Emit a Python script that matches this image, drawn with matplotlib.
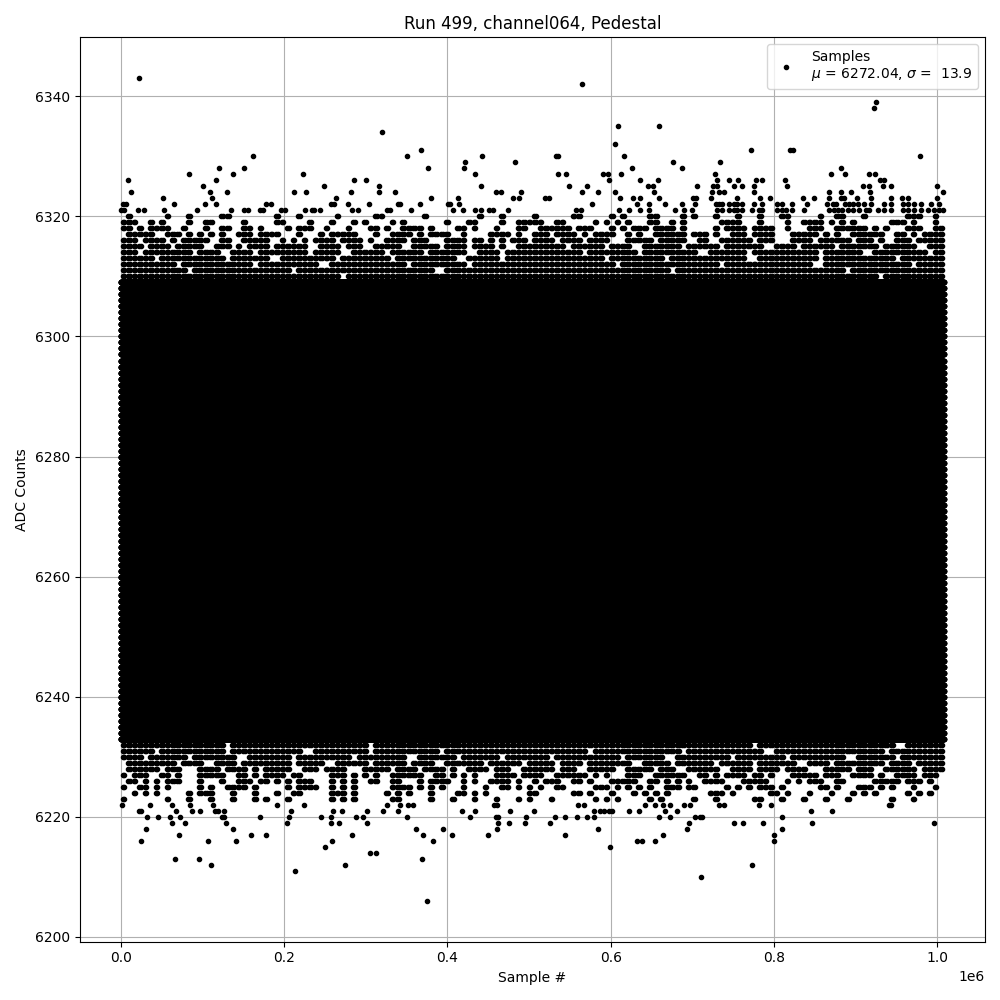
import matplotlib
matplotlib.use("Agg")
import matplotlib.pyplot as plt
import numpy as np

# Run 499, channel064 pedestal samples
n_samples = 1008000          # last sample index
mu, sigma = 6272.04, 13.9

# rows that are completely filled over the whole run
core_lo, core_hi = 6233, 6309

# partly filled rows: one character per bin of three dot slots
#   0 empty, 3 full, 1/l/r one dot (middle/left/right),
#   2/p/q two dots (left+middle / middle+right / left+right)
band_levels = [6320, 6319, 6318, 6317, 6316, 6315, 6314, 6313, 6312, 6311, 6310,
               6232, 6231, 6230, 6229, 6228, 6227, 6226, 6225, 6224, 6223]
band_masks = [
    "10r0l02001r00l0p00100r0l0" + "l0p0r1020q0l1r0201p0l0r21",
    "3r10l2010p01r0q01l0r020l3" + "2p0r1q021l0p2r01p2q10r2l1",
    "2q3r0l2p10q21r02l3q0p1r02" + "p3q2r13p2l0q3p21r2p3q1r2p",
    "p3r2q1l3p2r0q3l1p2q3r0p2l" + "3p2q3r1p3q2l3p2r3q1p3l2q3",
    "3p2q3l2p3r1q3p2l3q2r3p1q2" + "3q3p2r3q3l2p3q2r3p3q2l3p3",
    "3q3p3r2q3p3l3q2p3r3q3p2l3" + "33p3q3r33p3q33r3p3q33p3l3",
    "3p33q3r3p33q3l33p3q33r3p3" + "333p33q333r33p333q33r333p",
    "33p333q33r333p33q333l33p3" + "3333q333p3333r333q3333p33",
    "333q3333p333r3333q333p333" + "33333p33333q33333r33333p3",
    "3333p33333q33333333r33333" + "33333333q3333333333p33333",
    "3333333333333q33333333333" + "333333333333333333333p333",
    "333333q33333333p333333333" + "3333333333333q33333333r33",
    "33p333q3333r333p333q33333" + "333q33333p3333r333333q333",
    "3q33p33r33q333p33l33q33p3" + "3p333q33r333p33q333r33p33",
    "p33q3r3p33q3l33p3q3r33p3q" + "3q3p33r3q33p3q33r3p33q3p3",
    "p3q2r3p2q3l3p2r3q3p2l3q2p" + "3q2p3r3q2p3l3q3p2r3q2p3q3",
    "q2p1r3l2q3p0r2q1p3l2q1r3p" + "2p3q1r2p3l2q3p1r3q2p2l3q2",
    "p1q2r0l3p1q2r1l2p0q3r1p2l" + "q2p1r3l2q1p2r3l1q2p0r3q2l",
    "l2q0r1p2l0q3r1l0p2q1r0l2q" + "1p0r2q1l3p0r1q2l0p1r2q0l1",
    "r1l0q2r0l1p0r2l0q1r0p1l0r" + "l0p1r0q1l0r2l0p1r0l1q0r1l",
    "l0r0l1r0q0l0r1l0p0r0l1r0q" + "0l0r1l0q0r0l0p0l1r0l0r0l0",
]
slot_use = {"0": [], "1": [1], "l": [0], "r": [2],
            "2": [0, 1], "p": [1, 2], "q": [0, 2], "3": [0, 1, 2]}

# single outlying samples: sample index (thousands) per ADC value
outliers = {
    6343: [22.9],
    6342: [564.9],
    6339: [925.2],
    6338: [922.7],
    6335: [608.6, 658.9],
    6334: [320.2],
    6332: [604.9],
    6331: [368.1, 771.8, 819.6, 823.8],
    6330: [162.0, 350.9, 443.0, 532.5, 535.0, 616.0, 979.1],
    6329: [422.1, 483.4, 676.1, 733.7],
    6328: [120.2, 150.9, 376.7, 420.9, 625.8, 687.1, 881.5],
    6327: [83.4, 137.4, 223.3, 434.4, 535.0, 544.8, 590.2, 596.3, 612.3, 727.6,
           869.9, 887.1, 915.8, 923.2],
    6326: [8.6, 117.1, 285.9, 300.6, 597.5, 635.6, 657.7, 730.1, 744.8, 755.8,
           777.9, 785.3, 813.5, 929.3, 935.0],
    6325: [100.6, 249.1, 316.6, 441.7, 548.5, 571.0, 645.4, 651.5, 705.5, 724.8,
           730.1, 750.9, 760.7, 775.5, 816.0, 909.2, 915.8, 933.7, 943.6, 1000.0],
    6324: [12.3, 108.8, 130.1, 212.3, 227.5, 282.2, 316.6, 336.2, 460.1, 466.3,
           490.8, 564.4, 584.0, 604.9, 652.8, 723.6, 732.5, 738.7, 775.5, 867.5,
           882.2, 894.5, 917.8, 1007.0],
    6323: [52.4, 111.7, 263.8, 380.4, 413.5, 481.0, 488.3, 520.2, 523.9, 611.0,
           627.0, 635.6, 658.9, 700.6, 704.3, 722.3, 754.6, 782.8, 795.1, 835.6,
           849.1, 867.5, 882.2, 885.9, 901.8, 919.0, 943.6, 957.1, 964.4, 1000.0],
    6322: [2.5, 6.6, 64.7, 103.1, 116.6, 178.4, 184.5, 257.7, 261.0, 278.5,
           304.3, 339.9, 342.0, 366.9, 401.2, 403.7, 414.7, 576.7, 631.9, 646.6,
           666.3, 687.1, 703.1, 728.5, 732.5, 735.8, 744.8, 750.9, 755.1, 761.2,
           775.5, 785.8, 804.2, 810.3, 822.6, 841.0, 864.7, 871.7, 875.7, 887.1,
           892.0, 896.2, 902.3, 910.4, 918.6, 934.2, 943.2, 957.5, 963.7, 971.8,
           980.0, 992.3, 1002.5],
    6321: [0.0, 4.5, 20.9, 29.1, 52.8, 93.3, 135.0, 150.9, 155.8, 170.2,
           174.2, 196.8, 200.9, 226.3, 234.0, 237.3, 243.8, 283.4, 290.8, 325.6,
           329.7, 355.8, 407.4, 419.6, 434.4, 441.7, 451.5, 456.4, 474.8, 557.1,
           563.2, 609.8, 622.1, 635.6, 646.6, 678.5, 689.6, 699.4, 730.5, 736.7,
           744.8, 750.9, 755.1, 761.2, 773.5, 781.6, 785.8, 804.2, 810.3, 814.4,
           822.6, 836.8, 867.5, 873.6, 877.8, 883.9, 890.1, 896.2, 904.3, 912.5,
           916.6, 926.9, 935.0, 943.2, 957.5, 963.7, 971.8, 980.0, 988.2, 996.3,
           1002.5, 1006.6],
    6222: [1.2, 36.1, 62.6, 84.3, 112.9, 191.4, 224.2, 326.4, 342.0, 352.1,
           358.3, 457.7, 461.3, 559.5, 566.9, 642.6, 654.8, 663.8, 672.4, 689.6,
           696.9, 732.5, 738.7, 781.6, 796.3, 941.1, 943.2],
    6221: [22.9, 25.0, 68.0, 87.6, 97.4, 115.0, 119.0, 126.0, 208.6, 259.4,
           270.4, 301.8, 321.5, 339.9, 418.4, 434.4, 477.3, 506.7, 579.1, 586.5,
           592.3, 597.5, 602.1, 622.1, 634.4, 666.3, 681.0, 845.4, 871.2],
    6220: [31.9, 45.4, 61.0, 72.4, 123.9, 126.0, 171.0, 206.1, 245.4, 257.7,
           288.3, 296.9, 350.9, 428.2, 459.4, 462.6, 496.9, 531.3, 543.6, 558.3,
           570.6, 579.1, 658.9, 672.4, 703.1, 709.2, 711.7, 809.8],
    6219: [62.6, 78.5, 128.8, 203.7, 257.7, 267.5, 301.8, 462.6, 476.1, 495.7,
           525.6, 695.7, 750.9, 762.0, 786.5, 846.6, 996.3],
    6218: [30.7, 137.4, 362.0, 395.1, 461.3, 584.5, 693.3, 809.8],
    6217: [71.2, 159.5, 177.9, 283.4, 370.6, 406.1, 450.3, 543.6, 663.8, 800.0],
    6216: [24.5, 106.7, 141.1, 258.9, 382.8, 631.9, 638.0, 654.0, 800.0],
    6215: [250.3, 598.8],
    6214: [305.5, 312.9],
    6213: [66.3, 95.7, 369.3],
    6212: [110.4, 274.8, 773.0],
    6211: [213.5],
    6210: [710.1],
    6206: [375.5],
}

xs, ys = [], []

# solid rows
for level in range(core_lo, core_hi + 1):
    xr = np.linspace(0, n_samples, 8000)
    xs.append(xr)
    ys.append(np.full(xr.size, level))

# partly filled rows; each occupied slot holds a couple of nearby samples
for level, mask in zip(band_levels, band_masks):
    slot = n_samples / (3 * len(mask))
    pos = np.array([(3 * b + j + 0.5 + d) * slot
                    for b, c in enumerate(mask) for j in slot_use[c]
                    for d in (-0.15, 0.15)])
    xs.append(pos)
    ys.append(np.full(pos.size, level))

# outliers
for level, ks in outliers.items():
    k = np.array(ks) * 1000
    xs.append(k)
    ys.append(np.full(k.size, level))

x = np.concatenate(xs)
y = np.concatenate(ys)

fig, ax = plt.subplots(figsize=(10, 10), dpi=100)
ax.plot(x, y, 'k.', label="Samples\n$\\mu$ = %.2f, $\\sigma$ = %5.1f" % (mu, sigma))
ax.set_title("Run 499, channel064, Pedestal")
ax.set_xlabel("Sample #")
ax.set_ylabel("ADC Counts")
ax.grid()
ax.legend(loc="upper right")
fig.tight_layout()
fig.savefig("out.png")
